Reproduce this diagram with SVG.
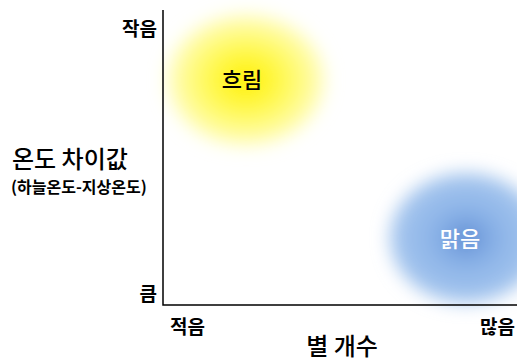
<svg xmlns="http://www.w3.org/2000/svg" width="517" height="361" viewBox="0 0 517 361">
<style>
text{font-family:"Noto Sans CJK KR","Noto Sans",sans-serif;fill:#000}
.tick{font-size:19px;font-weight:700}
.title{font-size:24px;font-weight:500}
.lbl{font-size:22px;font-weight:500}
.axis{stroke:#000;stroke-width:1.5;fill:none}
</style>
<defs>
<radialGradient id="gy" cx="0.5" cy="0.5" r="0.5">
<stop offset="0" stop-color="#ffee00"/>
<stop offset="0.35" stop-color="#fff73a"/>
<stop offset="0.75" stop-color="#fffb8a"/>
<stop offset="1" stop-color="#fffdc8"/>
</radialGradient>
<radialGradient id="gb" cx="0.5" cy="0.5" r="0.5">
<stop offset="0" stop-color="#5f8dd4"/>
<stop offset="0.4" stop-color="#8ab2e7"/>
<stop offset="1" stop-color="#a8c8ef"/>
</radialGradient>
<filter id="soft" x="-30%" y="-30%" width="160%" height="160%">
<feGaussianBlur stdDeviation="9"/>
</filter>
</defs>
<g id="cloudy">
<ellipse cx="246" cy="80" rx="79" ry="66" fill="url(#gy)" filter="url(#soft)"/>
<text class="lbl" x="242" y="88" text-anchor="middle">흐림</text>
</g>
<g id="clear">
<ellipse cx="466" cy="238" rx="76" ry="65" fill="url(#gb)" filter="url(#soft)"/>
<text class="lbl" x="460" y="247" text-anchor="middle" style="fill:#fff">맑음</text>
</g>
<g id="axes">
<path class="axis" d="M163 10V305H517"/>
</g>
<g id="labels">
<text class="tick" x="157" y="36" text-anchor="end">작음</text>
<text class="tick" x="157" y="301" text-anchor="end">큼</text>
<text class="tick" x="170" y="334">적음</text>
<text class="tick" x="515" y="334" text-anchor="end">많음</text>
<text class="title" x="12" y="168">온도 차이값</text>
<text x="11" y="193" style="font-size:16px;font-weight:700">(하늘온도-지상온도)</text>
<text class="title" x="342" y="355" text-anchor="middle">별 개수</text>
</g>
</svg>
